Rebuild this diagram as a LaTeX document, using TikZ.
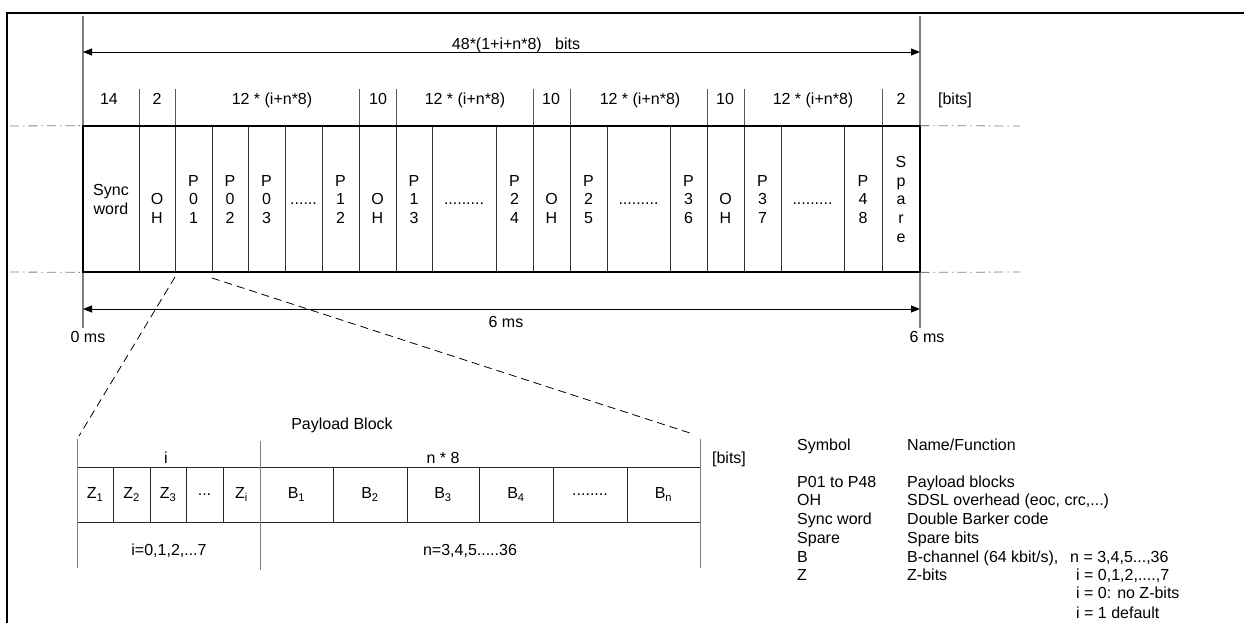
\documentclass[tikz,border=0pt]{standalone}
\usepackage{fontspec}
\setmainfont{Liberation Sans}
\usetikzlibrary{arrows.meta, positioning}

\newcommand{\cst}{\rule[-3.6pt]{0pt}{18.7pt}}
\newcommand{\pcell}[2]{\cst P\\\cst #1\\\cst #2}
\newcommand{\ohcell}{\cst\\\cst O\\\cst H}
\newcommand{\dotcell}[1]{\cst\\\cst #1\\\cst}

\begin{document}
\begin{tikzpicture}[
    x=1pt, y=-1pt,
    font=\fontsize{16}{18.7}\selectfont,
    >={Triangle[length=9pt,width=7pt]},
    cell/.style={draw=black!80, line width=0.8pt, minimum height=146pt, inner sep=0pt, align=center},
    zcell/.style={draw=black!85, line width=0.8pt, minimum height=55pt, inner sep=0pt, align=center},
    lbl/.style={inner sep=0pt, text height=11.5pt, text depth=0pt},
    legend/.style={lbl, anchor=west},
    guide/.style={draw=gray, line width=1.6pt},
    thinguide/.style={draw=gray, line width=1pt},
    tick/.style={draw=black!65, line width=0.8pt},
    dimarrow/.style={<->, line width=0.9pt},
    framebox/.style={line width=2pt},
    dashdot/.style={draw=gray, line width=0.8pt, dash pattern=on 9pt off 4pt on 1.5pt off 4pt},
    zoomline/.style={line width=0.8pt, dash pattern=on 8pt off 5pt}
]
\useasboundingbox (0,0) rectangle (1244,623);
\draw[line width=2.2pt] (7,623) -- (7,13) -- (1244,13);

\coordinate (gl top) at (83,16);
\coordinate (gl bot) at (83,328);
\coordinate (gr top) at (920,16);
\coordinate (gr bot) at (920,328);
\draw[guide] (gl top) -- (gl bot);
\draw[guide] (gr top) -- (gr bot);

\coordinate (total l) at (83,52);
\coordinate (total r) at (920,52);
\draw[dimarrow] (total l) -- (total r);
\node[lbl] (totallbl) at (516,44) {48*(1+i+n*8)~~~bits};

\foreach \x in {139,175,359,396,533,570,707,744,882}
  \draw[tick] (\x,89) -- (\x,126);
\node[lbl] (h1) at (109,99) {14};
\node[lbl] (h2) at (157,99) {2};
\node[lbl] (h3) at (272,99) {12 * (i+n*8)};
\node[lbl] (h4) at (378,99) {10};
\node[lbl] (h5) at (465,99) {12 * (i+n*8)};
\node[lbl] (h6) at (551,99) {10};
\node[lbl] (h7) at (640,99) {12 * (i+n*8)};
\node[lbl] (h8) at (725,99) {10};
\node[lbl] (h9) at (813,99) {12 * (i+n*8)};
\node[lbl] (h10) at (901,99) {2};
\node[lbl] (hunit) at (955,99) {[bits]};

\foreach \l/\r/\txt/\nm in {
    83/139/{\cst Sync\\\cst word}/sync,
    139/175/{\ohcell}/oha,
    175/212/{\pcell{0}{1}}/p01,
    212/248/{\pcell{0}{2}}/p02,
    248/285/{\pcell{0}{3}}/p03,
    285/322/{\dotcell{......}}/da,
    322/359/{\pcell{1}{2}}/p12,
    359/396/{\ohcell}/ohb,
    396/432/{\pcell{1}{3}}/p13,
    432/496/{\dotcell{.........}}/db,
    496/533/{\pcell{2}{4}}/p24,
    533/570/{\ohcell}/ohc,
    570/607/{\pcell{2}{5}}/p25,
    607/670/{\dotcell{.........}}/dc,
    670/707/{\pcell{3}{6}}/p36,
    707/744/{\ohcell}/ohd,
    744/781/{\pcell{3}{7}}/p37,
    781/844/{\dotcell{.........}}/dd,
    844/882/{\pcell{4}{8}}/p48,
    882/920/{\cst S\\\cst p\\\cst a\\\cst r\\\cst e}/spare}
  \node[cell, minimum width={(\r-\l)*1pt}] (\nm) at ({(\l+\r)/2},199) {\txt};
\draw[framebox] (sync.north west) rectangle (spare.south east);

\coordinate (ddl a) at (10,126);
\coordinate (ddl b) at (10,272);
\coordinate (ddr a) at (1020,126);
\coordinate (ddr b) at (1020,272);
\draw[dashdot] (ddl a) -- (sync.north west);
\draw[dashdot] (ddl b) -- (sync.south west);
\draw[dashdot] (spare.north east) -- (ddr a);
\draw[dashdot] (spare.south east) -- (ddr b);

\coordinate (time l) at (83,309);
\coordinate (time r) at (920,309);
\draw[dimarrow] (time l) -- (time r);
\node[lbl] (timelbl) at (506,322) {6 ms};
\node[lbl] (t0) at (88,337) {0 ms};
\node[lbl] (t6) at (927,337) {6 ms};

\foreach \l/\r/\txt/\nm in {
    77/113/{Z\textsubscript{1}}/z1,
    113/150/{Z\textsubscript{2}}/z2,
    150/186/{Z\textsubscript{3}}/z3,
    186/223/{...}/zd,
    223/260/{Z\textsubscript{i}}/zi,
    260/333/{B\textsubscript{1}}/b1,
    333/407/{B\textsubscript{2}}/b2,
    407/479/{B\textsubscript{3}}/b3,
    479/553/{B\textsubscript{4}}/b4,
    553/627/{........}/bd,
    627/700/{B\textsubscript{n}}/bn}
  \node[zcell, minimum width={(\r-\l)*1pt}] (\nm) at ({(\l+\r)/2},494.5) {\txt};

\coordinate (pg1 top) at (77,439);
\coordinate (pg1 bot) at (77,568);
\coordinate (pg2 top) at (260,441);
\coordinate (pg2 bot) at (260,570);
\coordinate (pg3 top) at (700,439);
\coordinate (pg3 bot) at (700,568);
\draw[thinguide] (pg1 top) -- (pg1 bot);
\draw[thinguide] (pg2 top) -- (pg2 bot);
\draw[thinguide] (pg3 top) -- (pg3 bot);

\coordinate (za1) at (175,277);
\coordinate (za2) at (79,436);
\coordinate (zb1) at (212,278);
\coordinate (zb2) at (693,434);
\draw[zoomline] (za1) -- (za2);
\draw[zoomline] (zb1) -- (zb2);

\node[lbl] (pbtitle) at (342,424) {Payload Block};
\node[lbl] (ilbl) at (166,458) {i};
\node[lbl] (nlbl) at (443,458) {n * 8};
\node[lbl] (punit) at (729,458) {[bits]};
\node[lbl] (irange) at (169,550) {i=0,1,2,...7};
\node[lbl] (nrange) at (470,550) {n=3,4,5.....36};

\node[legend] (symhead) at (797,445) {Symbol};
\node[legend] (namehead) at (907,445) {Name/Function};
\node[legend] (s1) at (797,482) {P01 to P48};
\node[legend] (n1) at (907,482) {Payload blocks};
\node[legend] (s2) at (797,500) {OH};
\node[legend] (n2) at (907,500) {SDSL overhead (eoc, crc,...)};
\node[legend] (s3) at (797,519) {Sync word};
\node[legend] (n3) at (907,519) {Double Barker code};
\node[legend] (s4) at (797,538) {Spare};
\node[legend] (n4) at (907,538) {Spare bits};
\node[legend] (s5) at (797,557) {B};
\node[legend] (n5) at (907,557) {B-channel (64 kbit/s),};
\node[legend] (n5b) at (1070,557) {n = 3,4,5...,36};
\node[legend] (s6) at (797,575) {Z};
\node[legend] (n6) at (907,575) {Z-bits};
\node[legend] (n6b) at (1076,575) {i = 0,1,2,....,7};
\node[legend] (n6c) at (1076,593) {i = 0: no Z-bits};
\node[legend] (n6d) at (1076,613) {i = 1 default};
\end{tikzpicture}
\end{document}
